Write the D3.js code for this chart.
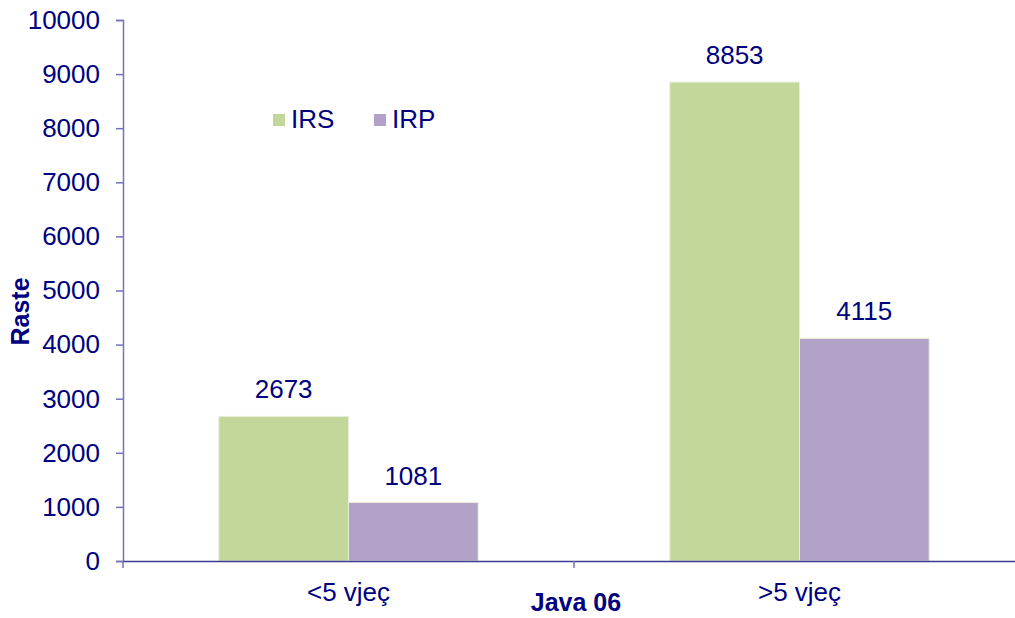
<!DOCTYPE html>
<html>
<head>
<meta charset="utf-8">
<script src="https://cdn.jsdelivr.net/npm/d3@7"></script>
<style>
  body { margin: 0; background: #fff; }
  text { font-family: "Liberation Sans", Arial, sans-serif; fill: #000080; }
</style>
</head>
<body>
<div id="chart"></div>
<script>
// data
var categories = ["<5 vjeç", ">5 vjeç"];
var seriesNames = ["IRS", "IRP"];
var irsValues = [2673, 8853];
var irpValues = [1081, 4115];
var yTicks = [0, 1000, 2000, 3000, 4000, 5000, 6000, 7000, 8000, 9000, 10000];
var colors = ["#c4d79b", "#b3a2c7"];

var margin = {top: 20, right: -10, bottom: 57, left: 123},
    width = 1015 - margin.left - margin.right,
    height = 618 - margin.top - margin.bottom;

var svg = d3.select("#chart")
    .append("svg")
    .attr("width", 1015)
    .attr("height", 618)
    .append("g")
    .attr("transform", "translate(" + margin.left + "," + margin.top + ")");

var x0 = d3.scaleBand()
    .domain(categories)
    .range([0, width])
    .paddingInner(0)
    .paddingOuter(0);

// inner scale for the two bars in each group
var x1 = d3.scaleBand()
    .domain(seriesNames)
    .range([0, x0.bandwidth() * 0.575])
    .padding(0);

var y = d3.scaleLinear()
    .domain([0, 10000])
    .range([height, 0]);

var rows = categories.map(function(c, i) {
  return {cat: c, vals: [irsValues[i], irpValues[i]]};
});

// bars
var groups = svg.selectAll(".grp")
    .data(rows)
    .enter()
    .append("g")
    .attr("class", "grp")
    .attr("transform", function(d) {
      return "translate(" + (x0(d.cat) + (x0.bandwidth() - x1.range()[1]) / 2) + ",0)";
    });

groups.selectAll("rect")
    .data(function(d) { return d.vals.map(function(v, j) { return {name: seriesNames[j], v: v, j: j}; }); })
    .enter()
    .append("rect")
    .attr("x", function(d) { return x1(d.name); })
    .attr("y", function(d) { return y(d.v); })
    .attr("width", x1.bandwidth())
    .attr("height", function(d) { return height - y(d.v); })
    .style("fill", function(d) { return colors[d.j]; })
    .style("stroke", "#e8eedc")
    .style("stroke-width", 1);

groups.selectAll(".val")
    .data(function(d) { return d.vals.map(function(v, j) { return {name: seriesNames[j], v: v}; }); })
    .enter()
    .append("text")
    .attr("class", "val")
    .attr("x", function(d) { return x1(d.name) + x1.bandwidth() / 2; })
    .attr("y", function(d) { return y(d.v) - 18; })
    .attr("text-anchor", "middle")
    .attr("font-size", "26px")
    .text(function(d) { return d.v; });

// y axis
var yAxis = svg.append("g")
    .attr("class", "y-axis")
    .call(d3.axisLeft(y).tickValues(yTicks).tickSize(7).tickPadding(16).tickFormat(d3.format("d")));
yAxis.select(".domain").attr("stroke", "#7373b6").attr("stroke-width", 1.5);
yAxis.selectAll(".tick line").attr("stroke", "#7373b6").attr("stroke-width", 1.5);
yAxis.selectAll(".tick text")
    .attr("font-size", "26px")
    .attr("fill", "#000080");

// x axis
var xAxis = svg.append("g")
    .attr("class", "x-axis")
    .attr("transform", "translate(0," + height + ")")
    .call(d3.axisBottom(x0).tickSize(0).tickPadding(22));
xAxis.select(".domain").attr("stroke", "#3b3b8f").attr("stroke-width", 1.5);
xAxis.selectAll(".tick text")
    .attr("font-size", "26px")
    .attr("fill", "#000080");

// category separator ticks
svg.append("g")
    .selectAll("line")
    .data(categories.slice(1))
    .enter()
    .append("line")
    .attr("x1", function(d) { return x0(d); })
    .attr("x2", function(d) { return x0(d); })
    .attr("y1", height)
    .attr("y2", height + 7)
    .attr("stroke", "#7373b6")
    .attr("stroke-width", 1.5);

// small tick under y axis
svg.append("line")
    .attr("x1", 0).attr("x2", 0)
    .attr("y1", height).attr("y2", height + 7)
    .attr("stroke", "#7373b6")
    .attr("stroke-width", 1.5);

// axis titles
svg.append("text")
    .attr("x", x0(categories[1]) + 2)
    .attr("y", height + 50)
    .attr("text-anchor", "middle")
    .attr("font-size", "25px")
    .attr("font-weight", "bold")
    .text("Java 06");

svg.append("text")
    .attr("transform", "rotate(-90)")
    .attr("x", -(height / 2) - 21)
    .attr("y", -94)
    .attr("text-anchor", "middle")
    .attr("font-size", "25px")
    .attr("font-weight", "bold")
    .text("Raste");

// legend
var legend = svg.append("g")
    .attr("transform", "translate(150,94)");

var legItems = legend.selectAll("g")
    .data(seriesNames)
    .enter()
    .append("g")
    .attr("transform", function(d, i) { return "translate(" + (i * 101) + ",0)"; });

legItems.append("rect")
    .attr("width", 12)
    .attr("height", 12)
    .style("fill", function(d, i) { return colors[i]; });

legItems.append("text")
    .attr("x", 18)
    .attr("y", 14)
    .attr("font-size", "26px")
    .text(function(d) { return d; });
</script>
</body>
</html>
